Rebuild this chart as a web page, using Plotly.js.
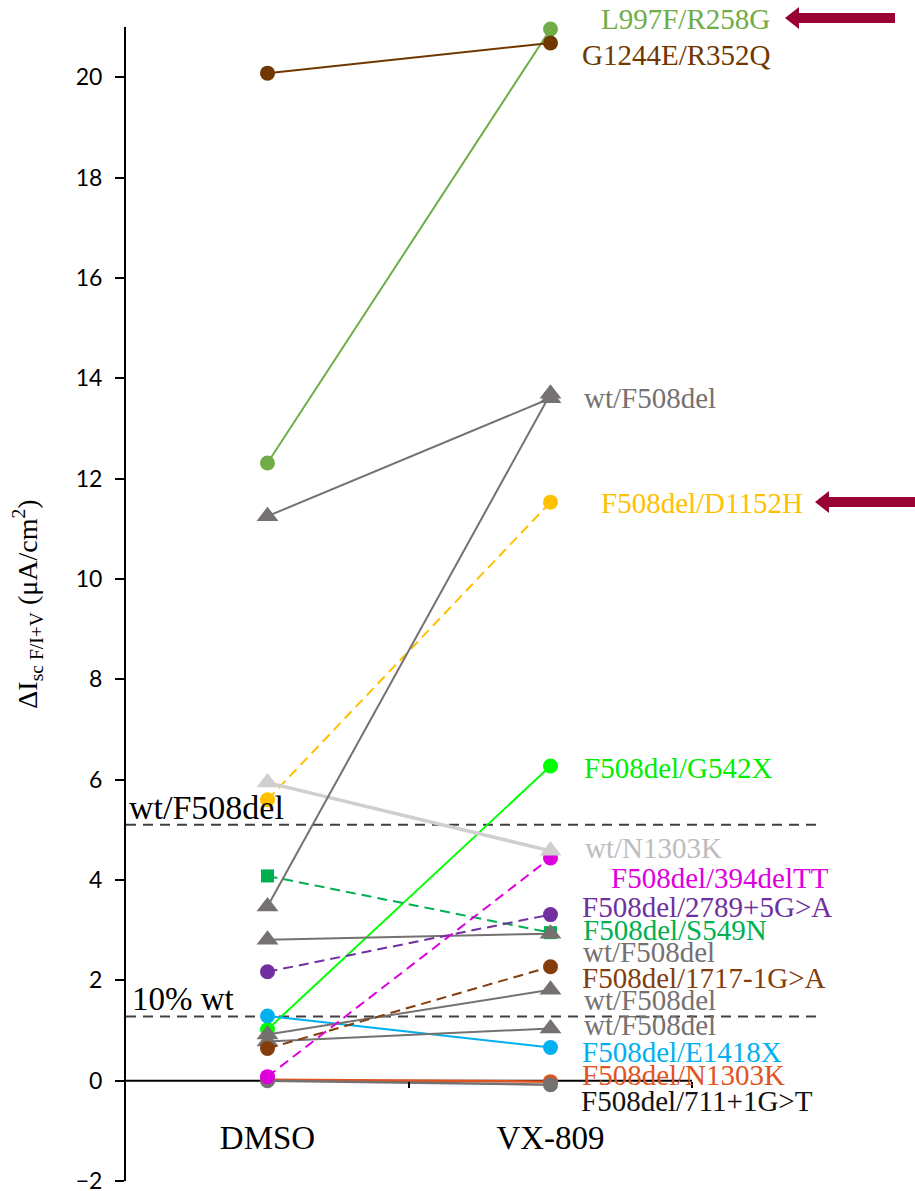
<!DOCTYPE html>
<html><head><meta charset="utf-8">
<script src="https://cdn.plot.ly/plotly-3.0.1.min.js"></script>
<style>html,body{margin:0;padding:0;background:#fff}#chart{width:915px;height:1191px}</style>
</head><body><div id="chart"></div>
<script>
// ---- data ----
const conditions = ['DMSO', 'VX-809'];
const seriesNames = [
  'F508del/G542X', 'F508del/N1303K', 'F508del/711+1G>T', 'F508del/E1418X',
  'wt/F508del (a)', 'wt/F508del (b)', 'F508del/1717-1G>A', 'F508del/S549N',
  'wt/F508del (c)', 'F508del/2789+5G>A', 'F508del/394delTT', 'F508del/D1152H',
  'wt/N1303K', 'wt/F508del (d)', 'wt/F508del (e)', 'L997F/R258G', 'G1244E/R352Q'
];
const dmsoValues = [1.02, 0.02, 0.00, 1.29, 0.78, 0.92, 0.64, 4.08, 2.81, 2.17, 0.08, 5.60, 5.94, 3.47, 11.25, 12.31, 20.08];
const vx809Values = [6.27, -0.02, -0.08, 0.66, 1.04, 1.81, 2.27, 2.95, 2.93, 3.31, 4.44, 11.53, 4.58, 13.69, 13.60, 20.96, 20.68];
const thresholdNames = ['wt/F508del', '10% wt'];
const thresholdValues = [5.10, 1.28];
const yTickValues = [-2, 0, 2, 4, 6, 8, 10, 12, 14, 16, 18, 20];

// label texts shown next to VX-809 points
const labelTexts = ['L997F/R258G', 'G1244E/R352Q', 'wt/F508del', 'F508del/D1152H', 'F508del/G542X',
  'wt/N1303K', 'F508del/394delTT', 'F508del/2789+5G>A', 'F508del/S549N', 'wt/F508del',
  'F508del/1717-1G>A', 'wt/F508del', 'wt/F508del', 'F508del/E1418X', 'F508del/N1303K', 'F508del/711+1G>T'];

// ---- styles / layout positions ----
const seriesColors = ['#00FF00', '#E2541F', '#767171', '#00B0F0', '#767171', '#767171', '#843C0C', '#00B050',
  '#767171', '#7030A0', '#DD00DD', '#FFC000', '#D0CECE', '#767171', '#767171', '#70AD47', '#703800'];
const seriesSymbols = ['circle', 'circle', 'circle', 'circle', 'triangle-up', 'triangle-up', 'circle', 'square',
  'triangle-up', 'circle', 'circle', 'circle', 'triangle-up', 'triangle-up', 'triangle-up', 'circle', 'circle'];
const seriesDashed = [false, false, false, false, false, false, true, true, false, true, true, true, false, false, false, false, false];
const seriesWidths = [2, 2.5, 2.5, 2, 2, 2, 2, 2, 2, 2, 2, 2, 3.5, 2, 2, 2, 2];
const labelColors = ['#70AD47', '#703800', '#767171', '#FFC000', '#00EE00', '#BDBDBD', '#DD00DD', '#7030A0', '#00B050',
  '#767171', '#843C0C', '#767171', '#767171', '#00B0F0', '#E2541F', '#111111'];
const labelY = [21.16, 20.44, 13.61, 11.51, 6.24, 4.64, 4.04, 3.47, 3.01, 2.57, 2.05, 1.61, 1.10, 0.58, 0.12, -0.40];
const labelShift = [48, 29, 31, 48, 31, 32, 58, 29, 30, 30, 29, 31, 31, 29, 29, 28];

const xPos = conditions.map((c, i) => i + 1);
const serif = 'Liberation Serif, Times New Roman, serif';

const traces = seriesNames.map((name, i) => ({
  type: 'scatter', mode: 'lines+markers', name: name,
  x: xPos, y: [dmsoValues[i], vx809Values[i]],
  line: { color: seriesColors[i], width: seriesWidths[i], dash: seriesDashed[i] ? '10px,6px' : 'solid' },
  marker: { color: seriesColors[i], symbol: seriesSymbols[i],
    size: seriesSymbols[i] === 'triangle-up' ? 19 : (seriesSymbols[i] === 'square' ? 13 : 15) },
  cliponaxis: false, hoverinfo: 'skip', showlegend: false
}));

const W = 915, H = 1191, ML = 126, MR = 0, MT = 27, MB = 10;
const yMin = -2, yMax = 21;
const pxPerX = 283;
const xMax = 0.5 + (W - ML - MR) / pxPerX;
const toPaperY = v => (v - yMin) / (yMax - yMin);
const pxToPaperX = px => (px - ML) / (W - ML - MR);
const pxToPaperY = py => (H - MB - py) / (H - MT - MB);

const annotations = labelTexts.map((t, i) => ({
  x: 2, y: toPaperY(labelY[i]), xref: 'x', yref: 'paper', xshift: labelShift[i], xanchor: 'left', yanchor: 'middle',
  text: t.replace(/>/g, '&gt;'), showarrow: false, font: { family: serif, size: 29, color: labelColors[i] }
}));
// threshold labels
annotations.push({ x: 0.5, y: toPaperY(thresholdValues[0]), xref: 'x', yref: 'paper', xshift: 1, yshift: -3, xanchor: 'left', yanchor: 'bottom',
  text: thresholdNames[0], showarrow: false, font: { family: serif, size: 34, color: '#000' } });
annotations.push({ x: 0.5, y: toPaperY(thresholdValues[1]), xref: 'x', yref: 'paper', xshift: 4, yshift: -3, xanchor: 'left', yanchor: 'bottom',
  text: thresholdNames[1], showarrow: false, font: { family: serif, size: 33, color: '#000' } });

const shapes = thresholdValues.map(v => ({
  type: 'line', xref: 'x', yref: 'y', x0: 0.5, x1: 2.94, y0: v, y1: v,
  line: { color: '#404040', width: 2, dash: '10px,7px' }, layer: 'below'
}));
shapes.push({ type: 'line', xref: 'x', yref: 'y', x0: 0.5, x1: 2.5, y0: 0, y1: 0,
  line: { color: '#000', width: 2 }, layer: 'below' });

// highlight arrows (pointer graphics next to two labels)
function arrowShapes(tipPx, tailPx, cyPx) {
  const headLen = 14, headHalf = 11, shaftHalf = 5;
  const px = pxToPaperX, py = pxToPaperY;
  return [
    { type: 'rect', xref: 'paper', yref: 'paper', x0: px(tipPx + headLen - 1), x1: px(tailPx),
      y0: py(cyPx - shaftHalf), y1: py(cyPx + shaftHalf), fillcolor: '#990036', line: { width: 0 } },
    { type: 'path', xref: 'paper', yref: 'paper',
      path: `M ${px(tipPx)} ${py(cyPx)} L ${px(tipPx + headLen)} ${py(cyPx - headHalf)} L ${px(tipPx + headLen)} ${py(cyPx + headHalf)} Z`,
      fillcolor: '#990036', line: { width: 0 } }
  ];
}
shapes.push(...arrowShapes(785, 895, 18));
shapes.push(...arrowShapes(815, 915, 502));

const layout = {
  width: W, height: H,
  margin: { l: ML, r: MR, t: MT, b: MB },
  paper_bgcolor: '#fff', plot_bgcolor: '#fff',
  showlegend: false,
  xaxis: {
    range: [0.5, xMax], showgrid: false, zeroline: false, showline: false,
    anchor: 'free', position: toPaperY(0),
    tickmode: 'array', tickvals: xPos, ticktext: conditions, ticks: '',
    ticklabelstandoff: 34,
    tickfont: { family: serif, size: 33, color: '#000' },
    minor: { tickmode: 'array', tickvals: [1.5, 2.5], ticks: 'outside', ticklen: 6, tickwidth: 1.5, tickcolor: '#000', showgrid: false }
  },
  yaxis: {
    range: [yMin, yMax], showgrid: false, zeroline: false,
    showline: true, linecolor: '#000', linewidth: 2,
    tickmode: 'array', tickvals: yTickValues,
    ticks: 'outside', ticklen: 9, tickwidth: 2, tickcolor: '#000',
    ticklabelstandoff: 8, ticklabeloverflow: 'allow',
    tickfont: { family: 'Lato, Open Sans, sans-serif', size: 23, color: '#000' },
    title: { text: 'ΔI<sub>sc F/I+V</sub> (μA/cm<sup>2</sup>)', font: { family: serif, size: 28, color: '#000' }, standoff: 30 }
  },
  annotations: annotations,
  shapes: shapes
};

Plotly.newPlot('chart', traces, layout, { displayModeBar: false, staticPlot: true });
</script>
</body></html>
